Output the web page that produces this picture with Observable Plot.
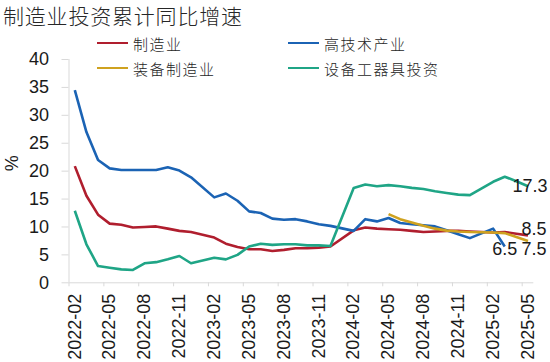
<!DOCTYPE html>
<html>
<head>
<meta charset="utf-8">
<script src="https://cdn.jsdelivr.net/npm/d3@7"></script>
<script src="https://cdn.jsdelivr.net/npm/@observablehq/plot@0.6"></script>
<style>
  html, body { margin: 0; padding: 0; background: #fff; }
  #wrap { position: relative; width: 550px; height: 362px; overflow: hidden; }
  #title { position: absolute; left: 3px; top: 0px; font-family: "Noto Sans CJK SC", sans-serif; font-size: 21px; font-weight: 300; letter-spacing: 0.8px; line-height: 31px; color: #262626; z-index: 2; white-space: nowrap; }
  #legend { position: absolute; left: 97px; top: 33px; display: grid; grid-template-columns: 191px auto; grid-auto-rows: 25px; z-index: 2; }
  .item { display: flex; align-items: center; height: 20px; font-family: "Noto Sans CJK SC", sans-serif; font-size: 15px; font-weight: 300; letter-spacing: 1.5px; color: #262626; white-space: nowrap; }
  .sw { width: 31px; height: 2.6px; margin-right: 5px; }
  #chart { position: absolute; left: 0; top: 0; }
</style>
</head>
<body>
<div id="wrap">
  <div id="title">制造业投资累计同比增速</div>
  <div id="legend"></div>
  <div id="chart"></div>
</div>
<script>
const months = [
  "2022-02","2022-03","2022-04","2022-05","2022-06","2022-07","2022-08","2022-09","2022-10","2022-11","2022-12",
  "2023-01","2023-02","2023-03","2023-04","2023-05","2023-06","2023-07","2023-08","2023-09","2023-10","2023-11","2023-12",
  "2024-01","2024-02","2024-03","2024-04","2024-05","2024-06","2024-07","2024-08","2024-09","2024-10","2024-11","2024-12",
  "2025-01","2025-02","2025-03","2025-04","2025-05"
];
const tickLabels = ["2022-02","2022-05","2022-08","2022-11","2023-02","2023-05","2023-08","2023-11","2024-02","2024-05","2024-08","2024-11","2025-02","2025-05"];
const yTicks = [0, 5, 10, 15, 20, 25, 30, 35, 40];

const manufacturing = [20.9,15.6,12.2,10.6,10.4,9.9,10.0,10.1,9.7,9.3,9.1, null,
  8.1,7.0,6.4,6.0,6.0,5.7,5.9,6.2,6.2,6.3,6.5, null,
  9.4,9.9,9.7,9.6,9.5,9.3,9.1,9.2,9.3,9.3,9.2, null,
  9.0,9.1,8.8,8.5];
const highTech = [34.5,27.0,22.0,20.5,20.2,20.2,20.2,20.2,20.7,20.1,18.9, null,
  15.3,16.0,14.7,12.8,12.5,11.5,11.3,11.4,11.0,10.5,10.2, null,
  9.3,11.4,11.0,11.6,10.7,10.5,10.3,10.1,9.4,8.7,8.0, null,
  9.7,6.5, null, null];
const equipMfg = [null,null,null,null,null,null,null,null,null,null,null, null,
  null,null,null,null,null,null,null,null,null,null,null, null,
  null,null,null,12.3,11.4,10.8,10.2,9.7,9.35,9.2,9.1, null,
  9.0,8.9,8.2,7.5];
const equipment = [12.9,6.9,3.0,2.7,2.4,2.3,3.5,3.7,4.2,4.8,3.5, null,
  4.5,4.2,5.0,6.5,7.0,6.8,6.9,6.9,6.7,6.7,6.6, null,
  17.0,17.6,17.3,17.5,17.3,17.0,16.8,16.4,16.1,15.8,15.7, null,
  18.1,19.0,18.2,17.3];

const seriesNames = ["制造业", "高技术产业", "装备制造业", "设备工器具投资"];
const seriesColors = ["#B01E2E", "#1B63B4", "#CFA21F", "#1FA586"];
const seriesValues = [manufacturing, highTech, equipMfg, equipment];
const legendOrder = [0, 1, 2, 3];

// legend
const leg = document.getElementById("legend");
legendOrder.forEach(k => {
  const it = document.createElement("div");
  it.className = "item";
  const sw = document.createElement("span");
  sw.className = "sw";
  sw.style.background = seriesColors[k];
  it.appendChild(sw);
  it.appendChild(document.createTextNode(seriesNames[k]));
  leg.appendChild(it);
});

const rows = seriesValues.flatMap((vals, k) =>
  vals.map((v, i) => ({i, month: months[i], v, name: seriesNames[k]})).filter(d => d.v != null)
);
const lastOf = k => rows.filter(d => d.name === seriesNames[k]).slice(-1);

const labelIdx = tickLabels.map(m => months.indexOf(m));
const boundaryIdx = labelIdx.map(i => i - 0.5);
const xDomain = [-0.5, months.length - 0.5];

const labelOpts = [
  {dx: 6, dy: -6},   // 制造业 8.5
  {dx: 0, dy: 3},    // 高技术产业 6.5
  {dx: 6, dy: 8},    // 装备制造业 7.5
  {dx: 2, dy: 0}     // 设备工器具投资 17.3
];

const chart = Plot.plot({
  width: 550,
  height: 362,
  marginTop: 59,
  marginBottom: 79.7,
  marginLeft: 68.5,
  marginRight: 16.7,
  style: {fontFamily: "'Liberation Sans', Arial, sans-serif", fontSize: "18px", color: "#1a1a1a", background: "transparent", overflow: "visible"},
  x: {type: "linear", domain: xDomain},
  y: {domain: [0, 40]},
  color: {domain: seriesNames, range: seriesColors},
  marks: [
    Plot.ruleX([xDomain[0]], {stroke: "#d9d9d9", strokeWidth: 1}),
    Plot.ruleY([0], {stroke: "#d9d9d9", strokeWidth: 1}),
    Plot.axisY({ticks: yTicks, tickSize: 7, tickPadding: 13, stroke: "#d9d9d9", fill: "#1a1a1a", label: null, fontSize: 18}),
    Plot.axisX(boundaryIdx, {tickSize: 4, tickFormat: () => "", stroke: "#d9d9d9", label: null}),
    Plot.axisX(labelIdx, {tickSize: 0, tickPadding: 11, tickRotate: -90, tickFormat: i => months[i], fill: "#1a1a1a", label: null, fontSize: 18}),
    Plot.text(["%"], {frameAnchor: "left", rotate: -90, dx: -57, fontSize: 18, fill: "#1a1a1a"}),
    Plot.line(rows, {x: "i", y: "v", z: "name", stroke: "name", strokeWidth: 2.6, strokeLinejoin: "round", strokeLinecap: "butt"}),
    ...seriesNames.map((n, k) => Plot.text(lastOf(k), {x: "i", y: "v", text: d => d.v.toFixed(1), fontSize: 18, fill: "#1a1a1a", dx: labelOpts[k].dx, dy: labelOpts[k].dy}))
  ]
});
document.getElementById("chart").appendChild(chart);
</script>
</body>
</html>
